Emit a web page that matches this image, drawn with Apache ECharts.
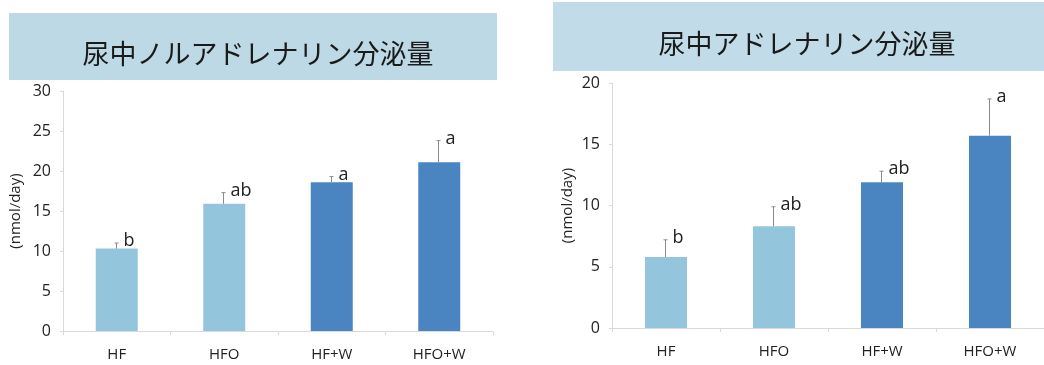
<!DOCTYPE html>
<html>
<head>
<meta charset="utf-8">
<script src="https://cdn.jsdelivr.net/npm/echarts@6/dist/echarts.min.js"></script>
<style>
  html, body { margin: 0; padding: 0; background: #fff; }
  #chart { width: 1044px; height: 365px; }
</style>
</head>
<body>
<div id="chart"></div>
<script>
// groups
const categories = ['HF', 'HFO', 'HF+W', 'HFO+W'];

// left: noradrenaline (nmol/day)
const noradMean = [10.3, 15.9, 18.6, 21.1];
const noradErr = [11.0, 17.3, 19.3, 23.8];
const noradLetters = ['b', 'ab', 'a', 'a'];
const noradTicks = [0, 5, 10, 15, 20, 25, 30];

// right: adrenaline (nmol/day)
const adrMean = [5.8, 8.3, 11.9, 15.7];
const adrErr = [7.2, 9.9, 12.8, 18.7];
const adrLetters = ['b', 'ab', 'ab', 'a'];
const adrTicks = [0, 5, 10, 15, 20];

const lightBlue = '#93c5dc';
const darkBlue = '#4b85c1';
const axisGray = '#d9d9d9';
const font = '"Open Sans", "Liberation Sans", sans-serif';

function barData(vals) {
    return vals.map((v, i) => ({
        value: v,
        itemStyle: {color: i < 2 ? lightBlue : darkBlue}
    }));
}

function errorSeries(idx, mean, err, letters) {
    return {
        type: 'custom',
        xAxisIndex: idx,
        yAxisIndex: idx,
        data: mean.map((m, i) => [i, m, err[i]]),
        renderItem(params, api) {
            const top = api.coord([api.value(0), api.value(2)]);
            const base = api.coord([api.value(0), api.value(1)]);
            const x = Math.round(top[0]) - 0.5;
            const letter = letters[params.dataIndex];
            return {
                type: 'group',
                children: [
                    {type: 'line', shape: {x1: x, y1: base[1], x2: x, y2: top[1]},
                        style: {stroke: '#8a8a8a', lineWidth: 1}},
                    {type: 'line', shape: {x1: x - 2, y1: top[1], x2: x + 2, y2: top[1]},
                        style: {stroke: '#8a8a8a', lineWidth: 1}},
                    {type: 'text', x: x + 7, y: top[1] - 2,
                        style: {text: letter, fill: '#222', font: '18px ' + font,
                            align: 'left', verticalAlign: 'middle'}}
                ]
            };
        },
        z: 5
    };
}

function xAxis(idx) {
    return {
        type: 'category',
        gridIndex: idx,
        data: categories,
        axisLine: {lineStyle: {color: axisGray}},
        axisTick: {show: true, length: 4, lineStyle: {color: axisGray}},
        axisLabel: {color: '#222', fontSize: 15, fontFamily: font, margin: 16}
    };
}

function yAxis(idx, ticks) {
    return {
        type: 'value',
        gridIndex: idx,
        min: ticks[0],
        max: ticks[ticks.length - 1],
        interval: ticks[1] - ticks[0],
        name: '(nmol/day)',
        nameLocation: 'middle',
        nameRotate: 90,
        nameTextStyle: {color: '#222', fontSize: 15, fontFamily: font},
        splitLine: {show: false},
        axisLine: {show: true, lineStyle: {color: axisGray}},
        axisTick: {show: true, length: 3, lineStyle: {color: axisGray}},
        axisLabel: {color: '#222', fontSize: 16, fontFamily: font, margin: 12}
    };
}

const chart = echarts.init(document.getElementById('chart'));
const yl = yAxis(0, noradTicks);
yl.nameGap = 40;
const yr = yAxis(1, adrTicks);
yr.nameGap = 37;

chart.setOption({
    animation: false,
    graphic: [
        {type: 'rect', left: 9, top: 13, shape: {width: 488, height: 67},
            style: {fill: '#bdd9e5'}, z: 0},
        {type: 'rect', left: 553, top: 2, shape: {width: 491, height: 69},
            style: {fill: '#c1dce8'}, z: 0}
    ],
    title: [
        {text: '尿中ノルアドレナリン分泌量', left: 253, top: 49, textAlign: 'center',
            textVerticalAlign: 'middle',
            textStyle: {fontSize: 27, fontWeight: 'normal', color: '#1a1a1a',
                fontFamily: '"Noto Sans CJK JP", sans-serif'}},
        {text: '尿中アドレナリン分泌量', left: 802, top: 39, textAlign: 'center',
            textVerticalAlign: 'middle',
            textStyle: {fontSize: 27, fontWeight: 'normal', color: '#1a1a1a',
                fontFamily: '"Noto Sans CJK JP", sans-serif'}}
    ],
    grid: [
        {left: 63, top: 91, width: 430, height: 240},
        {left: 612, top: 83, width: 440, height: 245}
    ],
    xAxis: [xAxis(0), xAxis(1)],
    yAxis: [yl, yr],
    series: [
        {type: 'bar', xAxisIndex: 0, yAxisIndex: 0, barWidth: 42, data: barData(noradMean)},
        {type: 'bar', xAxisIndex: 1, yAxisIndex: 1, barWidth: 42, data: barData(adrMean)},
        errorSeries(0, noradMean, noradErr, noradLetters),
        errorSeries(1, adrMean, adrErr, adrLetters)
    ]
});
</script>
</body>
</html>
